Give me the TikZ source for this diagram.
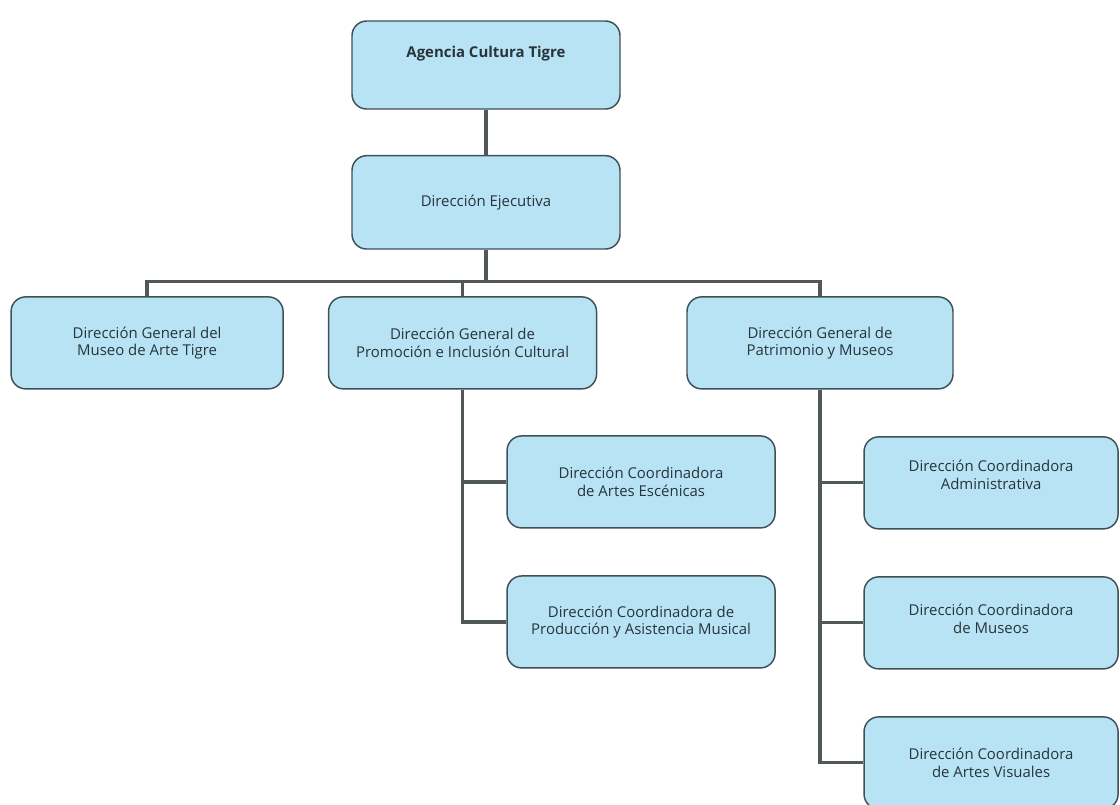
\documentclass[tikz,border=0pt]{standalone}
\usepackage{fontspec}
\setmainfont{Open Sans}
\usetikzlibrary{positioning}
\definecolor{boxblue}{RGB}{183,227,245}
\definecolor{boxline}{RGB}{62,80,88}
\definecolor{linkgray}{RGB}{80,88,88}
\definecolor{textgray}{RGB}{40,52,58}

\begin{document}
\begin{tikzpicture}[x=0.75pt,y=-0.75pt,on grid,
  unit/.style={draw=boxline,line width=1.1pt,fill=boxblue,rounded corners=11pt,
    minimum width=201pt,minimum height=69pt,align=center,text=textgray,
    font=\fontsize{11.2}{13}\selectfont},
  sub/.style={unit,minimum width=190.5pt},
  lift/.style={text depth=#1},
  link/.style={draw=linkgray,line width=2.4pt}]
\useasboundingbox (0,0) rectangle (1120,804);

\node[unit,minimum height=66pt,lift=20pt,font=\bfseries\fontsize{11.2}{13}\selectfont] (agencia) at (486,65) {Agencia Cultura Tigre};
\node[unit,minimum height=70pt] (ejecutiva) [below=103pt of agencia] {Dirección Ejecutiva};

\node[unit] (promocion) [below left=105.4pt and 17.6pt of ejecutiva] {Dirección General de\\Promoción e Inclusión Cultural};
\node[unit,minimum width=204pt] (museo) [left=236.6pt of promocion] {Dirección General del\\Museo de Arte Tigre};
\node[unit,minimum width=199.5pt] (patrimonio) [right=268.1pt of promocion] {Dirección General de\\Patrimonio y Museos};

\node[unit] (escenicas) [below right=104.3pt and 133.9pt of promocion] {Dirección Coordinadora\\de Artes Escénicas};
\node[unit] (produccion) [below=105pt of escenicas] {Dirección Coordinadora de\\Producción y Asistencia Musical};

\node[sub,lift=12pt] (administrativa) [below right=105pt and 128.3pt of patrimonio] {Dirección Coordinadora\\Administrativa};
\node[sub,lift=6pt] (museos) [below=105pt of administrativa] {Dirección Coordinadora\\de Museos};
\node[sub] (visuales) [below=105pt of museos] {Dirección Coordinadora\\de Artes Visuales};

% connectors
\coordinate[above=11.2pt of museo.north] (bus);
\draw[link] (agencia) -- (ejecutiva);
\draw[link] (museo.north) -- (bus) -| (patrimonio.north);
\draw[link] (ejecutiva.south) -- (ejecutiva.south |- bus);
\draw[link] (promocion.north) -- (promocion.north |- bus);
\draw[link] (promocion.south) |- (escenicas.west);
\draw[link] (promocion.south) |- (produccion.west);
\draw[link] (patrimonio.south) |- (administrativa.west);
\draw[link] (patrimonio.south) |- (museos.west);
\draw[link] (patrimonio.south) |- (visuales.west);
\end{tikzpicture}
\end{document}
